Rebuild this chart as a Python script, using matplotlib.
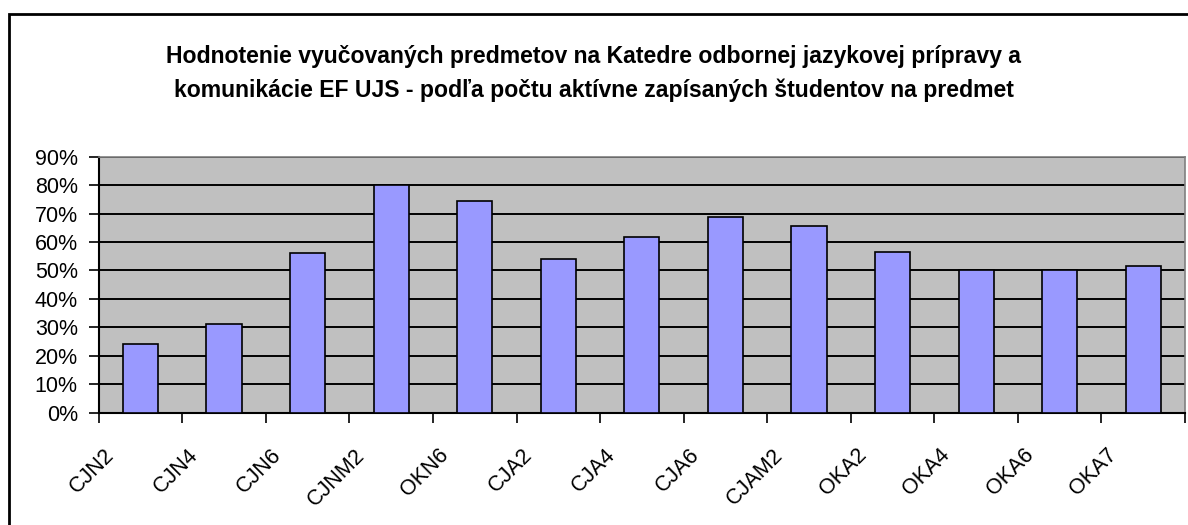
import matplotlib
matplotlib.use("Agg")
import matplotlib.pyplot as plt
import matplotlib.transforms as mtransforms
from matplotlib.patches import Rectangle
from matplotlib.ticker import FuncFormatter, FixedLocator

categories = ["CJN2", "CJN4", "CJN6", "CJNM2", "OKN6", "CJA2", "CJA4",
              "CJA6", "CJAM2", "OKA2", "OKA4", "OKA6", "OKA7"]
values = [24.2, 31.2, 56.0, 80.0, 74.5, 54.2, 61.8, 68.8, 65.5, 56.6, 50.0, 50.0, 51.6]
yticks = [0, 10, 20, 30, 40, 50, 60, 70, 80, 90]
title_lines = ["Hodnotenie vyučovaných predmetov na Katedre odbornej jazykovej prípravy a",
               "komunikácie EF UJS - podľa počtu aktívne zapísaných študentov na predmet"]

plt.rcParams['font.family'] = ['Liberation Sans', 'DejaVu Sans']

W, H = 1188, 525
fig = plt.figure(figsize=(W / 100, H / 100), dpi=100)
fig.patch.set_facecolor("white")

# outer chart border (left and top visible)
fig.add_artist(Rectangle((9 / W, -0.05), 1.2, (H - 14) / H + 0.05,
                         transform=fig.transFigure, fill=False,
                         edgecolor="black", linewidth=2))

ax = fig.add_axes([98.7 / W, 112.3 / H, (1185 - 98.7) / W, 256 / H])
ax.set_facecolor("#C0C0C0")

x = list(range(len(categories)))
ax.set_axisbelow(True)
ax.yaxis.grid(True, color="black", linewidth=1.4)
ax.bar(x, values, width=0.42, color="#9999FF", edgecolor="black", linewidth=1.2, zorder=3)

ax.set_xlim(-0.5, len(categories) - 0.5)
ax.set_ylim(0, 90)
ax.set_yticks(yticks)
ax.yaxis.set_major_formatter(FuncFormatter(lambda v, p: f"{int(round(v))}%"))
ax.tick_params(axis="y", direction="out", length=7, width=1.2, labelsize=15.5, pad=8, colors="black")

# x ticks at category boundaries, labels at centres
ax.xaxis.set_major_locator(FixedLocator([i - 0.5 for i in range(len(categories) + 1)]))
ax.xaxis.set_major_formatter(FuncFormatter(lambda v, p: ""))
ax.tick_params(axis="x", which="major", direction="out", length=7, width=1.2)
ax.set_xticks(x, minor=True)
ax.set_xticklabels(categories, minor=True, rotation=45, ha="right", va="top", fontsize=15.5)
ax.tick_params(axis="x", which="minor", length=0, pad=23)
offset = mtransforms.ScaledTranslation(-22 / 100, 0, fig.dpi_scale_trans)
for lbl in ax.xaxis.get_minorticklabels():
    lbl.set_transform(lbl.get_transform() + offset)

for s in ["left", "bottom"]:
    ax.spines[s].set_color("black")
    ax.spines[s].set_linewidth(1.5)
for s in ["top", "right"]:
    ax.spines[s].set_color("#808080")
    ax.spines[s].set_linewidth(1.2)

fig.text(0.5, 1 - 57 / H, title_lines[0], ha="center", va="center",
         fontsize=16.6, fontweight="bold")
fig.text(0.5, 1 - 90 / H, title_lines[1], ha="center", va="center",
         fontsize=16.6, fontweight="bold")

fig.savefig("out.png", dpi=100)
